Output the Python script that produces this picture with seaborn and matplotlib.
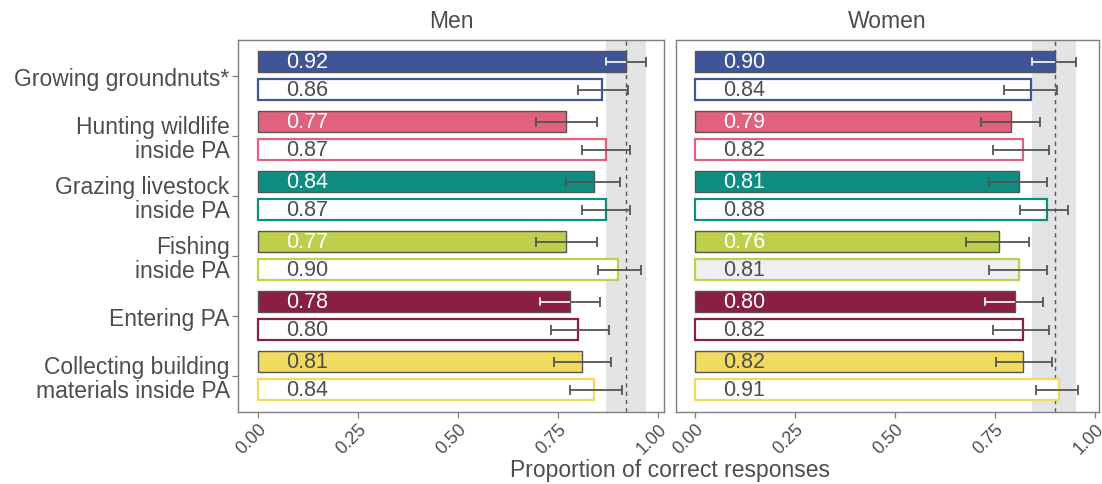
import numpy as np
import pandas as pd
import matplotlib
matplotlib.use("Agg")
import matplotlib.pyplot as plt
import seaborn as sns

# --- data ---
categories = ["Growing groundnuts*", "Hunting wildlife\ninside PA", "Grazing livestock\ninside PA",
              "Fishing\ninside PA", "Entering PA", "Collecting building\nmaterials inside PA"]
colours = ["#3F5597", "#E0627C", "#0E8E81", "#BFCF4D", "#8B1F41", "#F0DA5F"]

men_filled = [0.92, 0.77, 0.84, 0.77, 0.78, 0.81]
men_filled_lo = [0.87, 0.696, 0.770, 0.696, 0.704, 0.740]
men_filled_hi = [0.97, 0.848, 0.906, 0.848, 0.855, 0.882]
men_open = [0.86, 0.87, 0.87, 0.90, 0.80, 0.84]
men_open_lo = [0.80, 0.81, 0.81, 0.849, 0.732, 0.779]
men_open_hi = [0.926, 0.93, 0.93, 0.958, 0.877, 0.911]

women_filled = [0.90, 0.79, 0.81, 0.76, 0.80, 0.82]
women_filled_lo = [0.843, 0.716, 0.734, 0.677, 0.724, 0.753]
women_filled_hi = [0.953, 0.863, 0.879, 0.835, 0.870, 0.892]
women_open = [0.84, 0.82, 0.88, 0.81, 0.82, 0.91]
women_open_lo = [0.773, 0.744, 0.812, 0.734, 0.744, 0.853]
women_open_hi = [0.906, 0.885, 0.933, 0.879, 0.885, 0.958]

x_ticks = [0.00, 0.25, 0.50, 0.75, 1.00]
panels = ["Men", "Women"]

TXT = "#4D4D4D"
sns.set_theme(style="white")
plt.rcParams["font.family"] = ["Liberation Sans", "DejaVu Sans"]

fig = plt.figure(figsize=(11.02, 4.85), dpi=100)
ax_men = fig.add_axes([238 / 1102, 72.3 / 485, 426 / 1102, 372 / 485])
ax_wom = fig.add_axes([676 / 1102, 72.3 / 485, 423 / 1102, 372 / 485])

panel_data = {
    "Men": (ax_men, men_filled, men_filled_lo, men_filled_hi, men_open, men_open_lo, men_open_hi, (-0.05, 1.015)),
    "Women": (ax_wom, women_filled, women_filled_lo, women_filled_hi, women_open, women_open_lo, women_open_hi, (-0.047, 1.01)),
}

dark_inside = {0, 4}  # error bar part inside these filled bars is drawn light

for name in panels:
    ax, f, flo, fhi, o, olo, ohi, xlim = panel_data[name]
    df = pd.DataFrame({
        "cat": categories * 2,
        "kind": ["filled"] * 6 + ["open"] * 6,
        "val": f + o,
    })

    sns.barplot(data=df, y="cat", x="val", hue="kind", hue_order=["filled", "open"],
                order=categories, orient="h", dodge=True, width=0.936, gap=0.252,
                legend=False, ax=ax, zorder=2)

    # restyle bars by their position
    for p in ax.patches:
        yc = p.get_y() + p.get_height() / 2
        i = int(round(yc))
        is_open = yc > i
        if is_open:
            fc = "#EFEFEF" if (name == "Women" and i == 3) else "white"
            p.set_facecolor(fc)
            p.set_edgecolor(colours[i])
            p.set_linewidth(1.6)
        else:
            p.set_facecolor(colours[i])
            p.set_edgecolor("#555555")
            p.set_linewidth(1.0)

    # reference band: CI of the top filled bar
    ax.axvspan(flo[0], fhi[0], color="#E3E4E6", zorder=0, lw=0)
    ax.axvline(f[0], color="#555555", ls=(0, (3, 3)), lw=1, zorder=0.5)

    ypos = np.arange(len(categories))
    yf = ypos - 0.234
    yo = ypos + 0.234
    for vals, lo, hi, yy in [(f, flo, fhi, yf), (o, olo, ohi, yo)]:
        v = np.array(vals)
        ax.errorbar(v, yy, xerr=[v - np.array(lo), np.array(hi) - v], fmt="none",
                    ecolor="#555555", elinewidth=1.3, capsize=3.5, capthick=1.3, zorder=3)
    for i in dark_inside:
        ax.plot([flo[i], f[i]], [yf[i], yf[i]], color="#F2F2F2", lw=1.3, zorder=3.5, solid_capstyle="butt")
        ax.plot([flo[i], flo[i]], [yf[i] - 0.058, yf[i] + 0.058], color="#F2F2F2", lw=1.3, zorder=3.5)

    # value labels
    for i in range(len(categories)):
        light = i in (0, 1, 2, 3, 4)
        ax.text(0.07, yf[i], f"{f[i]:.2f}", va="center", ha="left", fontsize=15.5,
                color="white" if light else TXT, zorder=4)
        ax.text(0.07, yo[i], f"{o[i]:.2f}", va="center", ha="left", fontsize=15.5,
                color=TXT, zorder=4)

    ax.set_xlim(*xlim)
    ax.set_ylim(5.6, -0.6)
    ax.set_xticks(x_ticks)
    ax.set_xticklabels([f"{t:.2f}" for t in x_ticks], rotation=45, ha="right",
                       rotation_mode="anchor", fontsize=13, color=TXT)
    ax.set_xlabel("")
    ax.set_ylabel("")
    ax.set_title(name, fontsize=16.5, color=TXT, pad=9)
    ax.tick_params(axis="x", bottom=True, length=4, width=0.9, color="#7F7F7F", pad=2)
    for s in ax.spines.values():
        s.set_color("#7F7F7F")
        s.set_linewidth(1.0)
    ax.grid(False)

ax_men.set_yticks(range(len(categories)))
ax_men.set_yticklabels(categories, fontsize=16.5, color=TXT, linespacing=1.05, ha="right")
ax_men.tick_params(axis="y", left=True, length=4, width=0.9, color="#7F7F7F", pad=2)
ax_wom.set_yticks(range(len(categories)))
ax_wom.set_yticklabels([])
ax_wom.tick_params(axis="y", left=False)

fig.text(670 / 1102, 1 - 471 / 485, "Proportion of correct responses", ha="center", va="center",
         fontsize=16.5, color=TXT)

fig.savefig("out.png", dpi=100)
